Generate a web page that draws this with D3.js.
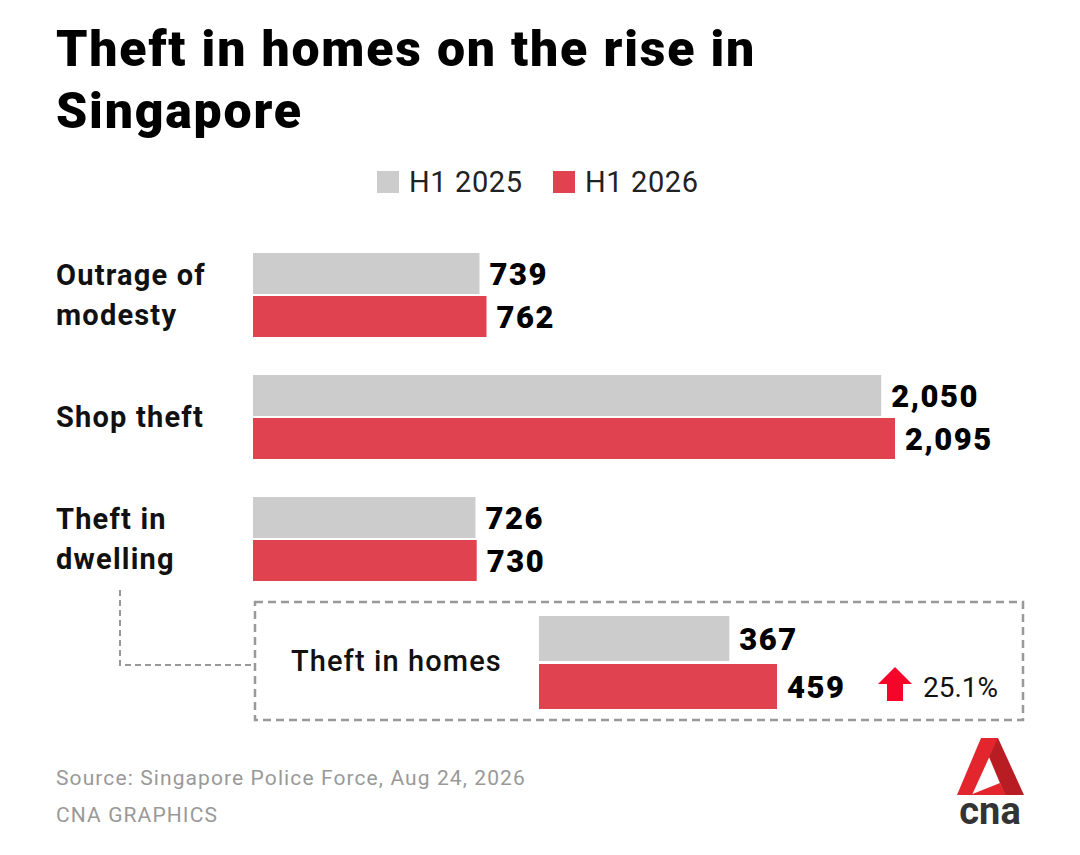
<!DOCTYPE html>
<html><head><meta charset="utf-8">
<script src="https://cdn.jsdelivr.net/npm/d3@7"></script>
<style>body{margin:0;background:#fff}text{font-family:Roboto,"Open Sans",sans-serif}</style>
</head><body>
<svg id="chart" width="1080" height="855"></svg>
<script>
// data
const categories = ["Outrage of|modesty", "Shop theft", "Theft in|dwelling"];
const h1_2025 = [739, 2050, 726];
const h1_2026 = [762, 2095, 730];
const insetLabel = "Theft in homes";
const inset2025 = [367];
const inset2026 = [459];
const insetChange = "25.1%";
const seriesNames = ["H1 2025", "H1 2026"];
const colors = ["#cccccc", "#e0434f"];

const svg = d3.select("#chart");

// title
svg.append("text").attr("x", 56).attr("y", 66).attr("font-size", 50).attr("font-weight", 900).attr("letter-spacing", 1.8).text("Theft in homes on the rise in");
svg.append("text").attr("x", 56).attr("y", 128).attr("font-size", 50).attr("font-weight", 900).attr("letter-spacing", 1.8).text("Singapore");

// legend
const leg = svg.append("g");
[[377, 0], [553, 1]].forEach(([lx, i]) => {
  leg.append("rect").attr("x", lx).attr("y", 171).attr("width", 22).attr("height", 22).attr("fill", colors[i]);
  leg.append("text").attr("x", lx + 32).attr("y", 192).attr("font-size", 29).attr("letter-spacing", 0.6).attr("fill", "#222").text(seriesNames[i]);
});

// main bars
const x = d3.scaleLinear().domain([0, 2095]).range([253, 895]);
const y = d3.scalePoint().domain(d3.range(categories.length)).range([253, 497]);
const barH = 41, gap = 2;
const fmt = d3.format(",");

categories.forEach((c, i) => {
  const y0 = y(i);
  [h1_2025[i], h1_2026[i]].forEach((v, s) => {
    const yy = y0 + s * (barH + gap);
    svg.append("rect").attr("x", x(0)).attr("y", yy).attr("width", x(v) - x(0)).attr("height", barH).attr("fill", colors[s]);
    svg.append("text").attr("x", x(v) + 10).attr("y", yy + barH / 2 + 11).attr("font-size", 31).attr("font-weight", 900).attr("letter-spacing", 1.5).text(fmt(v));
  });
  const lines = c.split("|");
  const mid = y0 + barH + gap / 2;
  lines.forEach((l, k) => {
    svg.append("text").attr("x", 56).attr("y", mid + 10 + (k - (lines.length - 1) / 2) * 40)
      .attr("font-size", 29).attr("font-weight", 700).attr("letter-spacing", 1.2).attr("fill", "#111").text(l);
  });
});

// inset box
svg.append("rect").attr("x", 255).attr("y", 602).attr("width", 768).attr("height", 118)
  .attr("fill", "none").attr("stroke", "#999").attr("stroke-width", 2.5).attr("stroke-dasharray", "8,5");
svg.append("path").attr("d", "M120,590V665H253").attr("fill", "none")
  .attr("stroke", "#999").attr("stroke-width", 2).attr("stroke-dasharray", "6,4");

const xi = d3.scaleLinear().domain([0, 459]).range([539, 777]);
const insetH = 45;
[inset2025[0], inset2026[0]].forEach((v, s) => {
  const yy = 616 + s * (insetH + 3);
  svg.append("rect").attr("x", xi(0)).attr("y", yy).attr("width", xi(v) - xi(0)).attr("height", insetH).attr("fill", colors[s]);
  svg.append("text").attr("x", xi(v) + 10).attr("y", yy + insetH / 2 + 11).attr("font-size", 31).attr("font-weight", 900).attr("letter-spacing", 1.5).text(fmt(v));
});
svg.append("text").attr("x", 291).attr("y", 671).attr("font-size", 29).attr("font-weight", 500).attr("letter-spacing", 1.1).attr("fill", "#111").text(insetLabel);
// arrow
svg.append("path").attr("d", "M895,667L912,684H903V701H887V684H878Z").attr("fill", "#f5052a");
svg.append("text").attr("x", 923).attr("y", 697).attr("font-size", 28).attr("fill", "#111").text(insetChange);

// footer
svg.append("text").attr("x", 56).attr("y", 785).attr("font-size", 21).attr("letter-spacing", 1.1).attr("fill", "#999").text("Source: Singapore Police Force, Aug 24, 2026");
svg.append("text").attr("x", 56).attr("y", 822).attr("font-size", 21).attr("letter-spacing", 1.1).attr("fill", "#999").text("CNA GRAPHICS");

// logo
const lg = svg.append("g");
lg.append("path").attr("d", "M981,738H998L1024,795H1005Z").attr("fill", "#b81d24");
lg.append("path").attr("d", "M981,738H998L972,795H957Z").attr("fill", "#e3262d");
lg.append("path").attr("d", "M970,795L1000,783L1006,795Z").attr("fill", "#e3262d");
lg.append("text").attr("x", 990).attr("y", 824).attr("text-anchor", "middle").attr("font-size", 38)
  .attr("font-weight", 700).attr("fill", "#333").text("cna");
</script>
</body></html>
